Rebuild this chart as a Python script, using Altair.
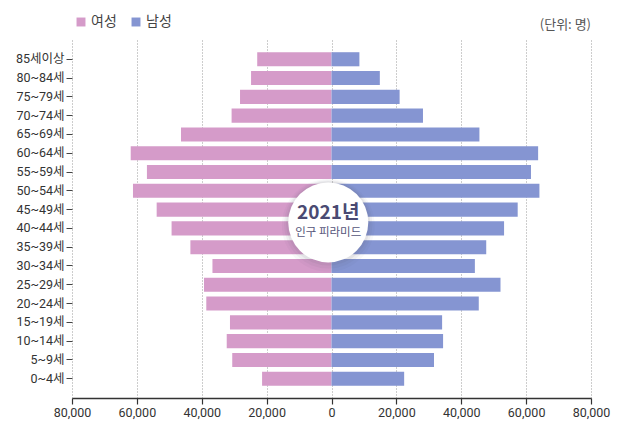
import altair as alt
import pandas as pd

ages = ["85세이상", "80~84세", "75~79세", "70~74세", "65~69세", "60~64세", "55~59세",
        "50~54세", "45~49세", "40~44세", "35~39세", "30~34세", "25~29세", "20~24세",
        "15~19세", "10~14세", "5~9세", "0~4세"]
female = [22900, 24800, 28200, 30800, 46400, 61900, 56900, 61200, 53900, 49300,
          43500, 36700, 39300, 38600, 31300, 32300, 30600, 21400]
male = [8600, 14900, 21000, 28200, 45600, 63700, 61500, 64100, 57400, 53200,
        47700, 44200, 52100, 45400, 34100, 34400, 31600, 22400]
sexes = ["여성", "남성"]
colors = ["#d59bc9", "#8595d2"]
xticks = [-80000, -60000, -40000, -20000, 0, 20000, 40000, 60000, 80000]

rows = []
for a, f, m in zip(ages, female, male):
    rows.append({"age": a, "sex": sexes[0], "value": -f})
    rows.append({"age": a, "sex": sexes[1], "value": m})
df = pd.DataFrame(rows)

FONT = "Roboto, Noto Sans CJK KR"
KFONT = "Noto Sans CJK KR"

xscale = alt.Scale(domain=[-80000, 80000], nice=False)
yscale = alt.Scale(domain=ages, paddingInner=0.25, paddingOuter=0.65)

bars = alt.Chart(df).mark_bar().encode(
    x=alt.X("value:Q", scale=xscale,
            axis=alt.Axis(values=xticks, labelOverlap=False,
                          labelExpr="format(abs(datum.value), ',')",
                          title=None, grid=True, gridDash=[1, 2], gridColor="#9a9a9a",
                          gridWidth=1, domainColor="#333333", domainWidth=1.5,
                          tickColor="#333333", tickSize=6, tickWidth=1.2,
                          labelColor="#333333", labelFontSize=12.5, labelFont=FONT,
                          labelPadding=2, labelFlush=False)),
    y=alt.Y("age:N", scale=yscale, sort=ages,
            axis=alt.Axis(title=None, domain=False, ticks=True, tickSize=6,
                          tickColor="#444444", labelColor="#333333", labelFontSize=12.5,
                          labelFont=FONT, labelPadding=2, grid=False)),
    color=alt.Color("sex:N", scale=alt.Scale(domain=sexes, range=colors),
                    legend=alt.Legend(title=None, orient="none", legendX=2, legendY=-25,
                                      direction="horizontal", symbolType="square",
                                      symbolSize=80, symbolStrokeWidth=0,
                                      labelFontSize=14, labelFont=KFONT,
                                      labelColor="#444444", columnPadding=12,
                                      labelOffset=3, symbolOpacity=1)),
)

anchor = pd.DataFrame({"x": [-1000], "age": ["40~44세"]})

shadows = []
for s, op, dy in [(8600, 0.04, 3), (7800, 0.06, 2), (7100, 0.08, 1)]:
    shadows.append(alt.Chart(anchor).mark_circle(size=s, color="#555566", opacity=op,
                                                 yOffset=-6 + dy).encode(
        x=alt.X("x:Q", scale=xscale), y=alt.Y("age:N", scale=yscale, sort=ages)))

disc = alt.Chart(anchor).mark_circle(size=6400, color="white", opacity=1,
                                     yOffset=-6).encode(
    x=alt.X("x:Q", scale=xscale), y=alt.Y("age:N", scale=yscale, sort=ages))

t1 = alt.Chart(anchor).mark_text(text="2021년", font=KFONT, fontSize=19,
                                 fontWeight="bold", color="#4a4a72", yOffset=-15).encode(
    x=alt.X("x:Q", scale=xscale), y=alt.Y("age:N", scale=yscale, sort=ages))
t2 = alt.Chart(anchor).mark_text(text="인구 피라미드", font=KFONT, fontSize=11.5,
                                 color="#55557a", yOffset=5).encode(
    x=alt.X("x:Q", scale=xscale), y=alt.Y("age:N", scale=yscale, sort=ages))

unit = alt.Chart(pd.DataFrame({"x": [80000]})).mark_text(
    text="(단위: 명)", font=KFONT, fontSize=13, color="#555555", align="right",
    baseline="middle").encode(x=alt.X("x:Q", scale=xscale), y=alt.value(-15))

chart = alt.layer(bars, *shadows, disc, t1, t2, unit).properties(
    width=519, height=358,
    autosize=alt.AutoSizeParams(type="none"),
    padding={"left": 64, "top": 32, "right": 20, "bottom": 26},
    background="white",
).configure_view(stroke=None)

chart.save("out.html", embed_options={"renderer": "svg", "actions": False})
